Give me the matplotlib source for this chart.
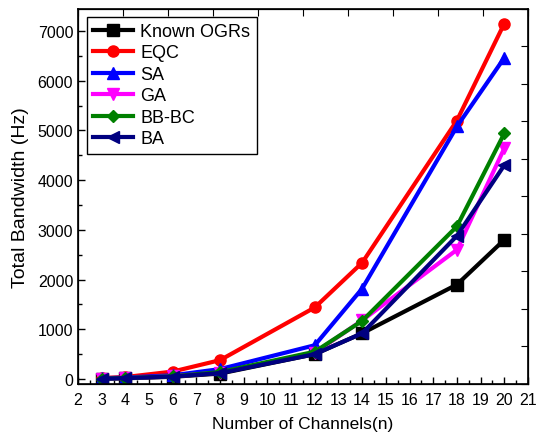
import matplotlib
matplotlib.use('Agg')
import matplotlib.pyplot as plt
from matplotlib.ticker import MultipleLocator
import numpy as np

plt.rcParams['font.family'] = ['Liberation Sans', 'DejaVu Sans']

# channels
n = [3, 4, 6, 8, 12, 14, 18, 20]

# total bandwidth (Hz)
known = [5, 15, 45, 110, 500, 920, 1900, 2800]
eqc = [20, 40, 150, 380, 1440, 2340, 5200, 7150]
sa = [15, 30, 75, 200, 680, 1820, 5080, 6460]
ga = [8, 20, 55, 130, 530, 1180, 2600, 4640]
bbbc = [8, 20, 55, 140, 550, 1170, 3070, 4940]
ba = [6, 18, 50, 120, 500, 920, 2880, 4300]

series = [
    ('Known OGRs', known, 'black', 's'),
    ('EQC', eqc, 'red', 'o'),
    ('SA', sa, 'blue', '^'),
    ('GA', ga, 'magenta', 'v'),
    ('BB-BC', bbbc, 'green', 'D'),
    ('BA', ba, 'navy', '<'),
]

fig = plt.figure(figsize=(5.36, 4.39), dpi=100)
ax = fig.add_axes([0.1455, 0.123, 0.8395, 0.855])

for label, y, c, m in series:
    ms = 6.5 if m == 'D' else 8
    ax.plot(n, y, color=c, marker=m, markersize=ms, linewidth=3, label=label)

ax.set_xlim(2, 21)
ax.set_ylim(-100, 7450)
ax.xaxis.set_major_locator(MultipleLocator(1))
ax.xaxis.set_minor_locator(MultipleLocator(0.5))
ax.yaxis.set_major_locator(MultipleLocator(1000))
ax.yaxis.set_minor_locator(MultipleLocator(500))
ax.tick_params(which='both', direction='in', labelsize=11.5, width=1)
ax.tick_params(axis='x', pad=6)
ax.tick_params(which='major', length=5)
ax.tick_params(which='minor', length=3)
for s in ax.spines.values():
    s.set_linewidth(1.2)

ax.set_xlabel('Number of Channels(n)', fontsize=12.5, labelpad=6)
ax.set_ylabel('Total Bandwidth (Hz)', fontsize=14, labelpad=6)

# mirrored ticks on top and right (Origin style, own spacing)
axt = ax.twiny()
axt.set_xlim(0, 1)
axt.set_xticks(np.linspace(0, 1, 11))
axt.tick_params(direction='in', length=5, labeltop=False)
axr = ax.twinx()
axr.set_ylim(0, 1)
axr.set_yticks(np.linspace(0, 1, 11))
axr.tick_params(direction='in', length=5, labelright=False)

leg = ax.legend(loc='upper left', bbox_to_anchor=(0.02, 0.979), fontsize=13,
                fancybox=False, edgecolor='black', framealpha=1,
                handlelength=2.2, borderpad=0.35, labelspacing=0.25,
                handletextpad=0.4, borderaxespad=0)
leg.get_frame().set_linewidth(1)

fig.savefig('out.png', dpi=100)
